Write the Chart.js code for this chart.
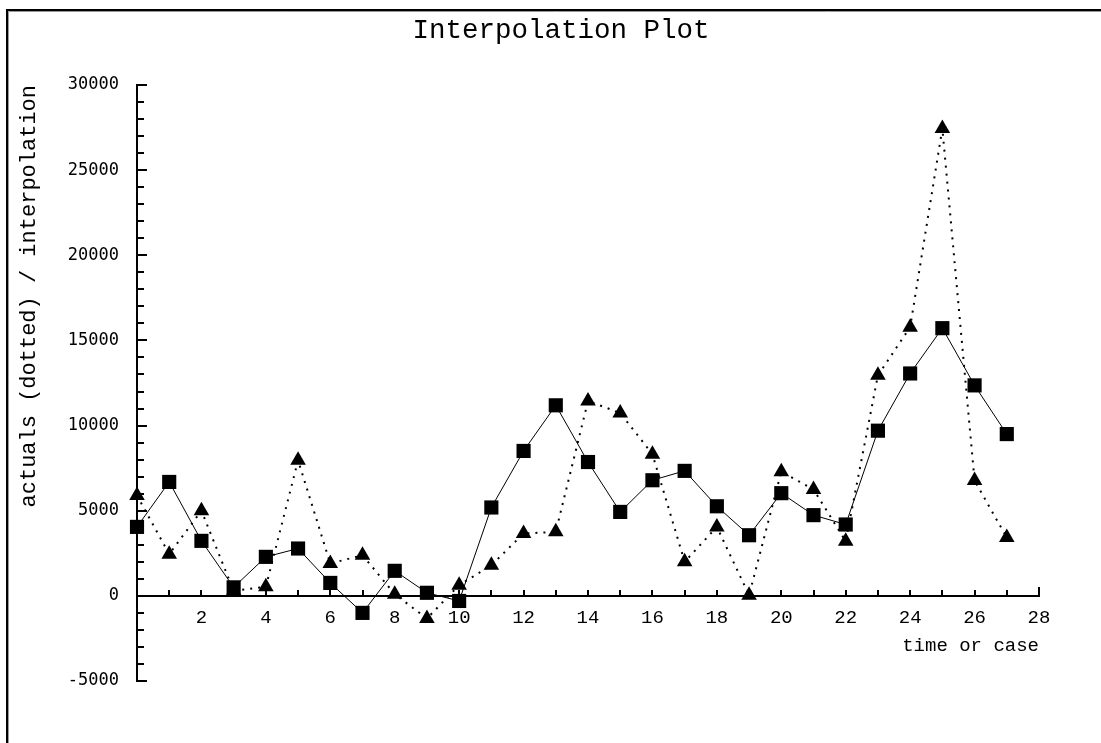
<!DOCTYPE html>
<html><head><meta charset="utf-8">
<script src="https://cdn.jsdelivr.net/npm/chart.js@4.4.0/dist/chart.umd.min.js"></script>
<style>html,body{margin:0;padding:0;background:#fff;overflow:hidden}#wrap{width:1101px;height:743px;position:relative}</style>
</head><body><div id="wrap"><canvas id="c" width="1101" height="743"></canvas></div>
<script>
// ---- data ----
const cases = [0,1,2,3,4,5,6,7,8,9,10,11,12,13,14,15,16,17,18,19,20,21,22,23,24,25,26,27];
const interpolation = [4050,6690,3230,500,2290,2780,760,-1000,1470,180,-300,5190,8510,11190,7860,4930,6790,7340,5260,3560,6030,4740,4190,9700,13060,15720,12360,9500];
const actuals = [5900,2450,5000,300,530,7960,1900,2390,100,-1330,630,1800,3660,3760,11440,10740,8320,2000,4050,40,7290,6250,3210,12950,15780,27450,6770,3420];
const xRange = [0, 28];
const yRange = [-5000, 30000];
const yMajorStep = 5000;
const yMinorStep = 1000;
const titleText = 'Interpolation Plot';
const yTitle = 'actuals (dotted) / interpolation';
const xTitle = 'time or case';

const toXY = (vals) => vals.map((v, i) => ({x: cases[i], y: v}));

const decor = {
  id: 'decor',
  beforeDraw(chart) {
    const ctx = chart.ctx;
    ctx.save();
    ctx.fillStyle = '#fff';
    ctx.fillRect(0, 0, chart.width, chart.height);
    // frame
    ctx.strokeStyle = '#000';
    ctx.lineWidth = 2;
    ctx.beginPath();
    ctx.moveTo(7, chart.height + 5); ctx.lineTo(7, 10); ctx.lineTo(chart.width + 5, 10);
    ctx.stroke();
    ctx.strokeStyle = '#999';
    ctx.lineWidth = 1;
    ctx.beginPath();
    ctx.moveTo(8.5, chart.height + 5); ctx.lineTo(8.5, 11.5); ctx.lineTo(chart.width + 5, 11.5);
    ctx.stroke();
    // title
    ctx.fillStyle = '#000';
    ctx.font = '27.5px "Liberation Mono"';
    ctx.textAlign = 'center';
    ctx.textBaseline = 'alphabetic';
    ctx.fillText(titleText, 561, 37.5);
    ctx.restore();
  },
  beforeDatasetsDraw(chart) {
    const ctx = chart.ctx;
    const xs = chart.scales.x, ys = chart.scales.y;
    const ca = chart.chartArea;
    ctx.save();
    ctx.strokeStyle = '#000';
    ctx.lineWidth = 2;
    // y axis
    const ax = Math.round(ca.left);
    ctx.beginPath();
    ctx.moveTo(ax, ys.getPixelForValue(yRange[1]) - 1);
    ctx.lineTo(ax, ys.getPixelForValue(yRange[0]) + 1);
    ctx.stroke();
    for (let v = yRange[0]; v <= yRange[1]; v += yMinorStep) {
      const py = Math.round(ys.getPixelForValue(v));
      const len = (v % yMajorStep === 0) ? 10 : 7;
      ctx.beginPath();
      ctx.moveTo(ax, py); ctx.lineTo(ax + len, py);
      ctx.stroke();
    }
    // x axis at y=0
    const ay = Math.round(ys.getPixelForValue(0));
    ctx.beginPath();
    ctx.moveTo(ax, ay); ctx.lineTo(xs.getPixelForValue(xRange[1]) + 1, ay);
    ctx.stroke();
    for (let v = xRange[0] + 1; v <= xRange[1]; v += 1) {
      const px = Math.round(xs.getPixelForValue(v));
      const len = v === xRange[1] ? 9 : 6;
      ctx.beginPath();
      ctx.moveTo(px, ay); ctx.lineTo(px, ay - len);
      ctx.stroke();
    }
    ctx.restore();
  }
};

new Chart(document.getElementById('c'), {
  type: 'line',
  data: {
    datasets: [
      {
        label: 'interpolation',
        data: toXY(interpolation),
        borderColor: '#000',
        backgroundColor: '#000',
        borderWidth: 1,
        pointStyle: 'rect',
        pointRadius: 10,
        pointBorderWidth: 0,
        pointBackgroundColor: '#000',
        tension: 0,
        clip: false
      },
      {
        label: 'actuals',
        data: toXY(actuals),
        borderColor: '#000',
        backgroundColor: '#000',
        borderWidth: 2,
        borderDash: [2, 6],
        pointStyle: 'triangle',
        pointRadius: 9,
        pointBorderWidth: 0,
        pointBackgroundColor: '#000',
        tension: 0,
        clip: false
      }
    ]
  },
  options: {
    responsive: false,
    animation: false,
    events: [],
    layout: { padding: { top: 85, right: 62, bottom: 62, left: 0 } },
    plugins: {
      legend: { display: false },
      tooltip: { enabled: false },
      title: { display: false }
    },
    scales: {
      x: {
        type: 'linear',
        position: { y: 0 },
        min: xRange[0], max: xRange[1],
        grid: { display: false, drawTicks: false },
        border: { display: false },
        ticks: {
          stepSize: 1, autoSkip: false, maxRotation: 0, color: '#000',
          font: { family: 'Liberation Mono', size: 19 },
          padding: 11,
          callback: (v) => (v % 2 === 0 && v !== 0) ? String(v) : ''
        },
        title: {
          display: true, text: xTitle, align: 'end', color: '#000',
          font: { family: 'Liberation Mono', size: 19, lineHeight: 0.6 },
          padding: { top: 0, bottom: 0 }
        }
      },
      y: {
        type: 'linear',
        position: 'left',
        min: yRange[0], max: yRange[1],
        grid: { display: false, drawTicks: false },
        border: { display: false },
        afterFit: (s) => { s.width = 137; },
        ticks: {
          stepSize: yMajorStep, color: '#000',
          font: { family: 'DejaVu Sans Mono', size: 17 },
          padding: 18,
          callback: (v) => String(v)
        },
        title: {
          display: true, text: yTitle, align: 'end', color: '#000',
          font: { family: 'Liberation Mono', size: 22 },
          padding: { top: 16, bottom: 0 }
        }
      }
    }
  },
  plugins: [decor]
});
</script>
</body></html>
